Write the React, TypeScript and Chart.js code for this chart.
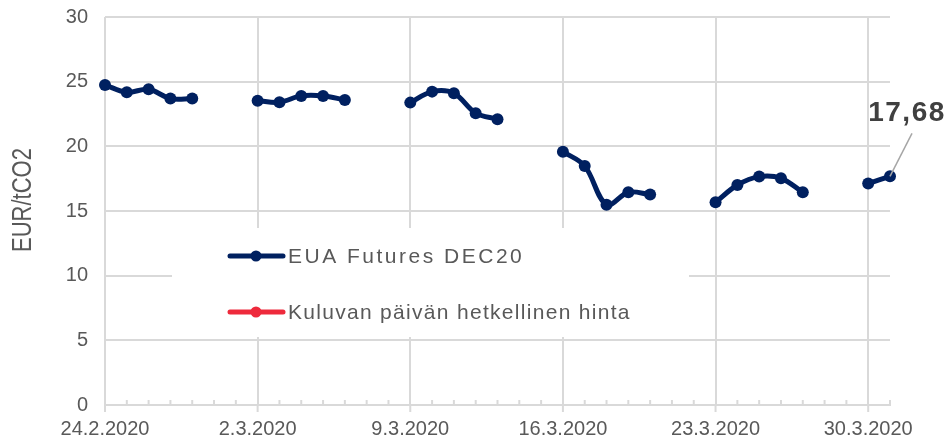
import React, { useEffect, useRef } from "react";
import { Chart, registerables } from "chart.js";

Chart.register(...registerables);

const dateLabels = [
  "24.2.2020", "25.2.2020", "26.2.2020", "27.2.2020", "28.2.2020", "29.2.2020", "1.3.2020",
  "2.3.2020", "3.3.2020", "4.3.2020", "5.3.2020", "6.3.2020", "7.3.2020", "8.3.2020",
  "9.3.2020", "10.3.2020", "11.3.2020", "12.3.2020", "13.3.2020", "14.3.2020", "15.3.2020",
  "16.3.2020", "17.3.2020", "18.3.2020", "19.3.2020", "20.3.2020", "21.3.2020", "22.3.2020",
  "23.3.2020", "24.3.2020", "25.3.2020", "26.3.2020", "27.3.2020", "28.3.2020", "29.3.2020",
  "30.3.2020", "31.3.2020",
];

const futuresValues: (number | null)[] = [
  24.74, 24.18, 24.41, 23.69, 23.69, null, null,
  23.53, 23.41, 23.9, 23.9, 23.59, null, null,
  23.38, 24.23, 24.1, 22.56, 22.1, null, null,
  19.59, 18.48, 15.49, 16.45, 16.27, null, null,
  15.68, 17.01, 17.66, 17.53, 16.45, null, null,
  17.12, 17.68,
];

const spotValues: (number | null)[] = [
  null, null, null, null, null, null, null,
  null, null, null, null, null, null, null,
  null, null, null, null, null, null, null,
  null, null, null, null, null, null, null,
  null, null, null, null, null, null, null,
  null, null,
];

const seriesNames = ["EUA Futures DEC20", "Kuluvan päivän hetkellinen hinta"];
const seriesColors = ["#002060", "#EE2A3C"];
const lastLabel = "17,68";
const yTitle = "EUR/tCO2";

const FONT = "'Liberation Sans', Arial, sans-serif";
const GRID = "#d9d9d9";
const TEXT = "#595959";
const legendSpacing = ["2.5px", "1.3px"];

const decorPlugin = {
  id: "decor",
  beforeDatasetsDraw(chart: any) {
    const { ctx, scales } = chart;
    const x = scales.x;
    const y = scales.y;
    const y0 = y.getPixelForValue(0);
    ctx.save();
    ctx.strokeStyle = GRID;
    ctx.lineWidth = 2;
    for (let i = 0; i < dateLabels.length; i++) {
      const px = x.getPixelForValue(i);
      ctx.beginPath();
      if (i % 7 === 0) {
        ctx.moveTo(px, y0);
        ctx.lineTo(px, y0 + 7);
      } else {
        ctx.moveTo(px, y0);
        ctx.lineTo(px, y0 - 5);
      }
      ctx.stroke();
    }
    // legend box (covers gridlines)
    const bx = 172, by = 228, bw = 517, bh = 109;
    ctx.fillStyle = "#ffffff";
    ctx.fillRect(bx, by, bw, bh);
    const rows = [256, 312];
    for (let k = 0; k < 2; k++) {
      const ry = rows[k];
      ctx.strokeStyle = seriesColors[k];
      ctx.lineWidth = 5;
      ctx.lineCap = "round";
      ctx.beginPath();
      ctx.moveTo(230, ry);
      ctx.lineTo(283, ry);
      ctx.stroke();
      ctx.fillStyle = seriesColors[k];
      ctx.beginPath();
      ctx.arc(256, ry, 5.5, 0, Math.PI * 2);
      ctx.fill();
      ctx.fillStyle = TEXT;
      ctx.font = `21px ${FONT}`;
      (ctx as any).letterSpacing = legendSpacing[k];
      ctx.textBaseline = "middle";
      ctx.textAlign = "left";
      ctx.fillText(seriesNames[k], 288, ry + 1);
      (ctx as any).letterSpacing = "0px";
    }
    // y axis title
    ctx.save();
    ctx.translate(23, 200);
    ctx.rotate(-Math.PI / 2);
    ctx.scale(1, 1.25);
    ctx.fillStyle = TEXT;
    ctx.font = `22px ${FONT}`;
    ctx.textAlign = "center";
    ctx.textBaseline = "middle";
    ctx.fillText(yTitle, 0, 0);
    ctx.restore();
    ctx.restore();
  },
  afterDatasetsDraw(chart: any) {
    const { ctx, scales } = chart;
    const idx = futuresValues.length - 1;
    const px = scales.x.getPixelForValue(idx);
    const py = scales.y.getPixelForValue(futuresValues[idx] as number);
    ctx.save();
    ctx.strokeStyle = "#a6a6a6";
    ctx.lineWidth = 1.5;
    ctx.beginPath();
    ctx.moveTo(px, py);
    ctx.lineTo(px + 22, py - 43);
    ctx.stroke();
    ctx.fillStyle = "#404040";
    ctx.font = `bold 28px ${FONT}`;
    (ctx as any).letterSpacing = "1.5px";
    ctx.textAlign = "center";
    ctx.textBaseline = "middle";
    ctx.fillText(lastLabel, px + 17, py - 63);
    ctx.restore();
  },
};

export default function App() {
  const ref = useRef<HTMLCanvasElement | null>(null);
  useEffect(() => {
    document.body.style.margin = "0";
    const canvas = ref.current;
    if (!canvas) return;
    const chart = new Chart(canvas, {
      type: "line",
      data: {
        labels: dateLabels,
        datasets: [
          {
            label: seriesNames[0],
            data: futuresValues,
            borderColor: seriesColors[0],
            backgroundColor: seriesColors[0],
            borderWidth: 5,
            pointRadius: 6,
            pointBorderWidth: 0,
            tension: 0.35,
            spanGaps: false,
          },
          {
            label: seriesNames[1],
            data: spotValues,
            borderColor: seriesColors[1],
            backgroundColor: seriesColors[1],
            borderWidth: 5,
            pointRadius: 5,
          },
        ],
      },
      options: {
        responsive: false,
        animation: false,
        layout: { padding: { left: 0, right: 59, top: 17, bottom: 0 } },
        plugins: {
          legend: { display: false },
          tooltip: { enabled: false },
        },
        scales: {
          x: {
            type: "category",
            offset: false,
            afterFit: (s: any) => {
              s.height = 35;
              s.paddingLeft = 0;
              s.paddingRight = 0;
            },
            grid: {
              drawTicks: false,
              lineWidth: 2,
              color: (c: any) => (c.index % 7 === 0 ? GRID : "rgba(0,0,0,0)"),
            },
            border: { display: true, color: GRID, width: 2 },
            ticks: {
              autoSkip: false,
              maxRotation: 0,
              padding: 12,
              color: TEXT,
              font: { family: FONT, size: 20 },
              callback: (_v: any, i: number) => (i % 7 === 0 ? dateLabels[i] : ""),
            },
          },
          y: {
            min: 0,
            max: 30,
            afterFit: (s: any) => {
              s.width = 105;
              s.paddingTop = 0;
              s.paddingBottom = 0;
            },
            grid: { drawTicks: false, lineWidth: 2, color: GRID },
            border: { display: false },
            ticks: {
              stepSize: 5,
              padding: 17,
              color: TEXT,
              font: { family: FONT, size: 20 },
            },
          },
        },
      },
      plugins: [decorPlugin],
    });
    return () => chart.destroy();
  }, []);
  return <canvas ref={ref} width={949} height={440} style={{ display: "block" }} />;
}
